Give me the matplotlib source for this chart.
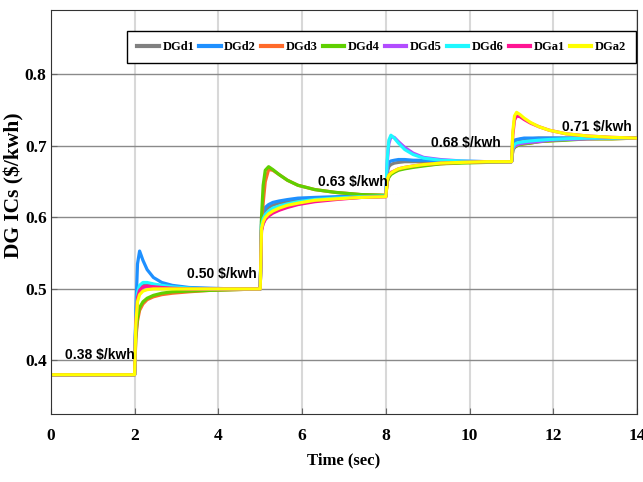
import numpy as np
import matplotlib.pyplot as plt

# step instants (s) and the price level reached after each step
step_times = [2, 5, 8, 11]
levels = [0.38, 0.50, 0.63, 0.678, 0.711]
level_labels = ['0.38 $/kwh', '0.50 $/kwh', '0.63 $/kwh', '0.68 $/kwh', '0.71 $/kwh']
label_pos = [(1.17, 0.407), (4.08, 0.521), (7.21, 0.649), (9.9, 0.704), (13.03, 0.726)]

offsets = [0, 0.03, 0.07, 0.12, 0.2, 0.3, 0.45, 0.65, 0.9, 1.3, 1.8, 2.4, 3.0]

names = ['DGd1', 'DGd2', 'DGd3', 'DGd4', 'DGd5', 'DGd6', 'DGa1', 'DGa2']
colors = ['#808080', '#1e90ff', '#ff6a2a', '#5fd000', '#b24cff', '#1ef8ff', '#ff1493', '#ffff00']

# one row per step
dgd1 = [[0.38, 0.46, 0.495, 0.503, 0.507, 0.507, 0.506, 0.504, 0.502, 0.501, 0.5, 0.5, 0.5],
        [0.5, 0.59, 0.602, 0.609, 0.614, 0.617, 0.62, 0.622, 0.624, 0.626, 0.628, 0.629, 0.63],
        [0.63, 0.662, 0.671, 0.674, 0.676, 0.677, 0.678, 0.678, 0.678, 0.678, 0.678, 0.678, 0.678],
        [0.678, 0.7, 0.706, 0.708, 0.709, 0.71, 0.71, 0.711, 0.711, 0.711, 0.711, 0.711, 0.711]]
dgd2 = [[0.38, 0.47, 0.535, 0.553, 0.54, 0.527, 0.516, 0.509, 0.505, 0.502, 0.501, 0.5, 0.5],
        [0.5, 0.595, 0.607, 0.614, 0.618, 0.621, 0.623, 0.625, 0.627, 0.628, 0.629, 0.63, 0.63],
        [0.63, 0.668, 0.677, 0.679, 0.68, 0.681, 0.681, 0.68, 0.68, 0.679, 0.678, 0.678, 0.678],
        [0.678, 0.703, 0.708, 0.709, 0.71, 0.711, 0.711, 0.711, 0.711, 0.711, 0.711, 0.711, 0.711]]
dgd3 = [[0.38, 0.43, 0.455, 0.47, 0.479, 0.485, 0.489, 0.492, 0.494, 0.496, 0.498, 0.499, 0.5],
        [0.5, 0.58, 0.62, 0.65, 0.667, 0.666, 0.66, 0.652, 0.645, 0.639, 0.635, 0.632, 0.631],
        [0.63, 0.65, 0.657, 0.661, 0.664, 0.667, 0.669, 0.671, 0.673, 0.675, 0.677, 0.678, 0.678],
        [0.678, 0.694, 0.698, 0.7, 0.702, 0.703, 0.704, 0.706, 0.707, 0.709, 0.71, 0.71, 0.711]]
dgd4 = [[0.38, 0.435, 0.46, 0.474, 0.482, 0.487, 0.491, 0.494, 0.496, 0.497, 0.498, 0.499, 0.5],
        [0.5, 0.6, 0.645, 0.666, 0.671, 0.667, 0.66, 0.652, 0.645, 0.639, 0.635, 0.632, 0.631],
        [0.63, 0.649, 0.656, 0.66, 0.663, 0.666, 0.668, 0.67, 0.672, 0.675, 0.676, 0.677, 0.678],
        [0.678, 0.694, 0.698, 0.7, 0.702, 0.703, 0.704, 0.706, 0.707, 0.708, 0.71, 0.71, 0.711]]
dgd5 = [[0.38, 0.455, 0.487, 0.497, 0.502, 0.503, 0.503, 0.502, 0.501, 0.5, 0.5, 0.5, 0.5],
        [0.5, 0.583, 0.592, 0.598, 0.603, 0.607, 0.611, 0.615, 0.619, 0.623, 0.626, 0.628, 0.629],
        [0.63, 0.675, 0.703, 0.713, 0.712, 0.706, 0.698, 0.69, 0.684, 0.681, 0.679, 0.678, 0.678],
        [0.678, 0.695, 0.699, 0.701, 0.703, 0.704, 0.705, 0.706, 0.708, 0.709, 0.71, 0.711, 0.711]]
dgd6 = [[0.38, 0.46, 0.495, 0.505, 0.509, 0.509, 0.507, 0.505, 0.503, 0.501, 0.5, 0.5, 0.5],
        [0.5, 0.588, 0.598, 0.604, 0.609, 0.613, 0.616, 0.619, 0.622, 0.625, 0.627, 0.629, 0.63],
        [0.63, 0.68, 0.708, 0.715, 0.711, 0.704, 0.695, 0.688, 0.683, 0.68, 0.679, 0.678, 0.678],
        [0.678, 0.697, 0.702, 0.704, 0.705, 0.706, 0.707, 0.708, 0.709, 0.71, 0.711, 0.711, 0.711]]
dga1 = [[0.38, 0.455, 0.488, 0.498, 0.503, 0.504, 0.503, 0.502, 0.501, 0.5, 0.5, 0.5, 0.5],
        [0.5, 0.582, 0.591, 0.597, 0.602, 0.606, 0.61, 0.614, 0.618, 0.622, 0.625, 0.628, 0.629],
        [0.63, 0.652, 0.659, 0.663, 0.665, 0.668, 0.67, 0.672, 0.674, 0.676, 0.677, 0.678, 0.678],
        [0.678, 0.715, 0.736, 0.742, 0.741, 0.737, 0.732, 0.727, 0.722, 0.717, 0.714, 0.712, 0.711]]
dga2 = [[0.38, 0.45, 0.482, 0.492, 0.497, 0.499, 0.5, 0.5, 0.5, 0.5, 0.5, 0.5, 0.5],
        [0.5, 0.584, 0.594, 0.6, 0.605, 0.609, 0.613, 0.617, 0.62, 0.624, 0.626, 0.628, 0.629],
        [0.63, 0.652, 0.659, 0.662, 0.665, 0.668, 0.67, 0.672, 0.674, 0.676, 0.677, 0.678, 0.678],
        [0.678, 0.72, 0.742, 0.747, 0.744, 0.739, 0.733, 0.727, 0.722, 0.717, 0.714, 0.712, 0.711]]
series = [dgd1, dgd2, dgd3, dgd4, dgd5, dgd6, dga1, dga2]

t = np.concatenate([[0.0]] + [np.array(offsets) + s for s in step_times])

fig = plt.figure(figsize=(6.43, 4.82), dpi=100)
ax = fig.add_axes([0.079, 0.141, 0.912, 0.838])

for name, col, seg in zip(names, colors, series):
    y = np.concatenate([[levels[0]]] + [np.array(r) for r in seg])
    ax.plot(t, y, color=col, lw=2.3, label=name)

for txt, (x, y) in zip(level_labels, label_pos):
    ax.text(x, y, txt, ha='center', va='center', fontsize=10, fontweight='bold',
            family='Liberation Sans')

ax.set_xlim(0, 14)
ax.set_ylim(0.325, 0.89)
ax.set_xticks(range(0, 15, 2))
ax.set_yticks([0.4, 0.5, 0.6, 0.7, 0.8])
ax.set_yticklabels(['0.4', '0.5', '0.6', '0.7', '0.8'])
ax.grid(axis='y', color='#8a8a8a', lw=1)
ax.grid(axis='x', color='#d8d8d8', lw=1.5)
ax.set_axisbelow(True)
for sp in ax.spines.values():
    sp.set_color('#333333')
ax.tick_params(direction='in', length=4, color='#666666')
ax.tick_params(axis='x', pad=10)
ax.tick_params(axis='y', pad=3)
for lab in ax.get_xticklabels() + ax.get_yticklabels():
    lab.set_family('Liberation Serif')
    lab.set_fontweight('bold')
    lab.set_fontsize(12.5)

ax.set_xlabel('Time (sec)', family='Liberation Serif', fontweight='bold', fontsize=12, labelpad=6)
ax.set_ylabel('DG ICs ($/kwh)', family='Liberation Serif', fontweight='bold', fontsize=15.5)
ax.yaxis.set_label_coords(-0.045, 0.567)

leg = ax.legend(ncol=8, loc='upper right', bbox_to_anchor=(0.998, 0.948), borderaxespad=0,
                prop={'family': 'Liberation Serif', 'weight': 'bold', 'size': 9},
                handlelength=1.7, handletextpad=0.3, columnspacing=0.4,
                borderpad=0.8, fancybox=False, framealpha=1, edgecolor='black')
for ln in leg.get_lines():
    ln.set_linewidth(3)
leg.get_frame().set_linewidth(1)

fig.savefig('out.png', dpi=100)
